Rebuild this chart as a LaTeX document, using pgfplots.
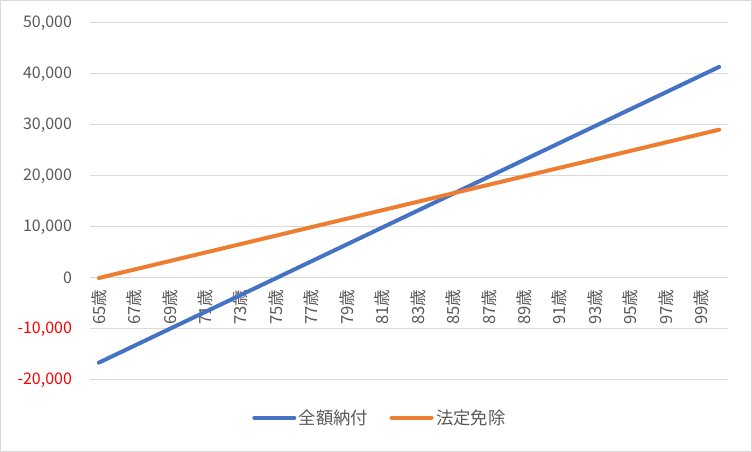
\documentclass[border=0pt]{standalone}
\usepackage{pgfplots}
\pgfplotsset{compat=1.18}
\usepackage{fontspec}
\setmainfont{Noto Sans CJK JP}
\definecolor{cblue}{HTML}{4472C4}
\definecolor{corange}{HTML}{ED7D31}
\definecolor{ctext}{HTML}{595959}
\definecolor{cgrid}{HTML}{D9D9D9}
\begin{document}
\begin{tikzpicture}
\useasboundingbox (0pt,0pt) rectangle (564pt,339pt);
\draw[cgrid, line width=0.75pt] (0.4pt,0.4pt) rectangle (563.6pt,338.6pt);
\begin{axis}[
  at={(67.5pt,54pt)}, anchor=south west,
  scale only axis, width=478.5pt, height=267.75pt,
  xmin=-0.5, xmax=35.5, ymin=-20000, ymax=50000,
  scaled y ticks=false,
  axis x line=middle, axis y line=left,
  x axis line style={-, cgrid, line width=0.75pt},
  y axis line style={draw=none},
  hide obscured x ticks=false, hide obscured y ticks=false,
  major tick length=0pt,
  xtick={0,2,...,34},
  xticklabels={65歳,67歳,69歳,71歳,73歳,75歳,77歳,79歳,81歳,83歳,85歳,87歳,89歳,91歳,93歳,95歳,97歳,99歳},
  xticklabel style={rotate=90, anchor=east, font=\fontsize{12.5}{14}\selectfont, text=ctext, inner xsep=8.5pt},
  ytick={-20000,-10000,0,10000,20000,30000,40000,50000},
  yticklabels={\textcolor{red}{-20,000},\textcolor{red}{-10,000},0,{10,000},{20,000},{30,000},{40,000},{50,000}},
  yticklabel style={font=\fontsize{12}{14}\selectfont, text=ctext, xshift=-10pt},
  ymajorgrids, grid style={cgrid, line width=0.75pt},
  legend style={at={(0.455,-0.106)}, anchor=center, legend columns=2, draw=none, fill=none,
    font=\fontsize{13}{15}\selectfont, text=ctext, /tikz/every even column/.append style={column sep=14pt}},
  legend image code/.code={\draw[#1, line width=3pt, line cap=round] (0pt,0pt) -- (30pt,0pt);},
]
\addplot[cblue, line width=3pt, line cap=round, line join=round] coordinates {
(0,-16600)(1,-14943)(2,-13286)(3,-11629)(4,-9972)(5,-8315)(6,-6658)(7,-5001)(8,-3344)(9,-1687)
(10,-30)(11,1627)(12,3284)(13,4941)(14,6598)(15,8255)(16,9912)(17,11569)(18,13226)(19,14883)
(20,16540)(21,18197)(22,19854)(23,21511)(24,23168)(25,24825)(26,26482)(27,28139)(28,29796)(29,31453)
(30,33110)(31,34767)(32,36424)(33,38081)(34,39738)(35,41395)};
\addlegendentry{全額納付}
\addplot[corange, line width=3pt, line cap=round, line join=round] coordinates {
(0,0)(1,831)(2,1662)(3,2493)(4,3324)(5,4155)(6,4986)(7,5817)(8,6648)(9,7479)
(10,8310)(11,9141)(12,9972)(13,10803)(14,11634)(15,12465)(16,13296)(17,14127)(18,14958)(19,15789)
(20,16620)(21,17451)(22,18282)(23,19113)(24,19944)(25,20775)(26,21606)(27,22437)(28,23268)(29,24099)
(30,24930)(31,25761)(32,26592)(33,27423)(34,28254)(35,29085)};
\addlegendentry{法定免除}
\end{axis}
\end{tikzpicture}
\end{document}
